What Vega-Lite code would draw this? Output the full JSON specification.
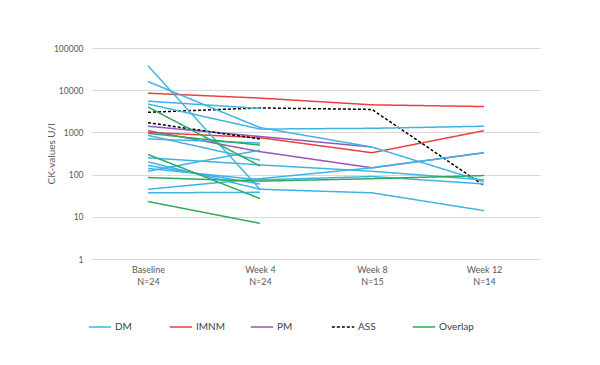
{
  "$schema": "https://vega.github.io/schema/vega-lite/v6.json",
  "width": 448,
  "height": 211,
  "autosize": "none",
  "padding": {"left": 92, "top": 48, "right": 60, "bottom": 106},
  "background": "white",
  "config": {
    "font": "Lato",
    "view": {"stroke": null},
    "axis": {"labelFont": "Lato", "titleFont": "Lato", "labelColor": "#595959", "titleColor": "#595959"}
  },
  "data": {"values": [
    {"id": "IMNM1", "group": "IMNM", "time": "Baseline", "ck": 8500},
    {"id": "IMNM1", "group": "IMNM", "time": "Week 4", "ck": 6500},
    {"id": "IMNM1", "group": "IMNM", "time": "Week 8", "ck": 4500},
    {"id": "IMNM1", "group": "IMNM", "time": "Week 12", "ck": 4100},
    {"id": "IMNM2", "group": "IMNM", "time": "Baseline", "ck": 1000},
    {"id": "IMNM2", "group": "IMNM", "time": "Week 4", "ck": 750},
    {"id": "IMNM2", "group": "IMNM", "time": "Week 8", "ck": 330},
    {"id": "IMNM2", "group": "IMNM", "time": "Week 12", "ck": 1100},
    {"id": "PM1", "group": "PM", "time": "Baseline", "ck": 1400},
    {"id": "PM1", "group": "PM", "time": "Week 4", "ck": 800},
    {"id": "PM1", "group": "PM", "time": "Week 8", "ck": 450},
    {"id": "PM2", "group": "PM", "time": "Baseline", "ck": 1100},
    {"id": "PM2", "group": "PM", "time": "Week 4", "ck": 350},
    {"id": "PM2", "group": "PM", "time": "Week 8", "ck": 145},
    {"id": "PM2", "group": "PM", "time": "Week 12", "ck": 330},
    {"id": "ASS1", "group": "ASS", "time": "Baseline", "ck": 3000},
    {"id": "ASS1", "group": "ASS", "time": "Week 4", "ck": 3800},
    {"id": "ASS1", "group": "ASS", "time": "Week 8", "ck": 3500},
    {"id": "ASS1", "group": "ASS", "time": "Week 12", "ck": 55},
    {"id": "ASS2", "group": "ASS", "time": "Baseline", "ck": 1700},
    {"id": "ASS2", "group": "ASS", "time": "Week 4", "ck": 700},
    {"id": "D1", "group": "DM", "time": "Baseline", "ck": 38000},
    {"id": "D1", "group": "DM", "time": "Week 4", "ck": 45},
    {"id": "D1", "group": "DM", "time": "Week 8", "ck": 37},
    {"id": "D1", "group": "DM", "time": "Week 12", "ck": 14},
    {"id": "D2", "group": "DM", "time": "Baseline", "ck": 16000},
    {"id": "D2", "group": "DM", "time": "Week 4", "ck": 1300},
    {"id": "D2", "group": "DM", "time": "Week 8", "ck": 450},
    {"id": "D2", "group": "DM", "time": "Week 12", "ck": 68},
    {"id": "D3", "group": "DM", "time": "Baseline", "ck": 5500},
    {"id": "D3", "group": "DM", "time": "Week 4", "ck": 3700},
    {"id": "D4", "group": "DM", "time": "Baseline", "ck": 4700},
    {"id": "D4", "group": "DM", "time": "Week 4", "ck": 1200},
    {"id": "D4", "group": "DM", "time": "Week 8", "ck": 1250},
    {"id": "D4", "group": "DM", "time": "Week 12", "ck": 1400},
    {"id": "D5", "group": "DM", "time": "Baseline", "ck": 850},
    {"id": "D5", "group": "DM", "time": "Week 4", "ck": 220},
    {"id": "D6", "group": "DM", "time": "Baseline", "ck": 120},
    {"id": "D6", "group": "DM", "time": "Week 4", "ck": 380},
    {"id": "D7", "group": "DM", "time": "Baseline", "ck": 250},
    {"id": "D7", "group": "DM", "time": "Week 4", "ck": 170},
    {"id": "D7", "group": "DM", "time": "Week 8", "ck": 120},
    {"id": "D7", "group": "DM", "time": "Week 12", "ck": 75},
    {"id": "D8", "group": "DM", "time": "Baseline", "ck": 200},
    {"id": "D8", "group": "DM", "time": "Week 4", "ck": 45},
    {"id": "D9", "group": "DM", "time": "Baseline", "ck": 165},
    {"id": "D9", "group": "DM", "time": "Week 4", "ck": 60},
    {"id": "D10", "group": "DM", "time": "Baseline", "ck": 140},
    {"id": "D10", "group": "DM", "time": "Week 4", "ck": 75},
    {"id": "D10", "group": "DM", "time": "Week 8", "ck": 90},
    {"id": "D10", "group": "DM", "time": "Week 12", "ck": 60},
    {"id": "D11", "group": "DM", "time": "Baseline", "ck": 45},
    {"id": "D11", "group": "DM", "time": "Week 4", "ck": 80},
    {"id": "D11", "group": "DM", "time": "Week 8", "ck": 145},
    {"id": "D11", "group": "DM", "time": "Week 12", "ck": 330},
    {"id": "D12", "group": "DM", "time": "Baseline", "ck": 37},
    {"id": "D12", "group": "DM", "time": "Week 4", "ck": 38},
    {"id": "D13", "group": "DM", "time": "Baseline", "ck": 700},
    {"id": "D13", "group": "DM", "time": "Week 4", "ck": 560},
    {"id": "G1", "group": "Overlap", "time": "Baseline", "ck": 4000},
    {"id": "G1", "group": "Overlap", "time": "Week 4", "ck": 160},
    {"id": "G2", "group": "Overlap", "time": "Baseline", "ck": 950},
    {"id": "G2", "group": "Overlap", "time": "Week 4", "ck": 500},
    {"id": "G3", "group": "Overlap", "time": "Baseline", "ck": 300},
    {"id": "G3", "group": "Overlap", "time": "Week 4", "ck": 27},
    {"id": "G4", "group": "Overlap", "time": "Baseline", "ck": 85},
    {"id": "G4", "group": "Overlap", "time": "Week 4", "ck": 70},
    {"id": "G4", "group": "Overlap", "time": "Week 8", "ck": 80},
    {"id": "G4", "group": "Overlap", "time": "Week 12", "ck": 95},
    {"id": "G5", "group": "Overlap", "time": "Baseline", "ck": 23},
    {"id": "G5", "group": "Overlap", "time": "Week 4", "ck": 7}
  ]},
  "mark": {"type": "line", "strokeWidth": 1.5},
  "encoding": {
    "x": {
      "field": "time", "type": "ordinal",
      "sort": ["Baseline", "Week 4", "Week 8", "Week 12"],
      "scale": {"type": "point", "padding": 0.5},
      "axis": {
        "title": null, "labelAngle": 0, "ticks": false, "labelPadding": 6,
        "labelFontSize": 9, "labelLineHeight": 12,
        "domainColor": "#d9d9d9", "grid": false,
        "labelExpr": "datum.value == 'Baseline' ? ['Baseline','N=24'] : datum.value == 'Week 4' ? ['Week 4','N=24'] : datum.value == 'Week 8' ? ['Week 8','N=15'] : ['Week 12','N=14']"
      }
    },
    "y": {
      "field": "ck", "type": "quantitative",
      "scale": {"type": "log", "domain": [1, 100000], "nice": false},
      "axis": {
        "title": "CK-values U/l", "titleFontSize": 10, "titleFontWeight": "normal", "titlePadding": -3,
        "values": [1, 10, 100, 1000, 10000, 100000], "format": "d",
        "labelFontSize": 8.5, "labelPadding": 9, "ticks": false, "domain": false,
        "gridColor": "#d9d9d9"
      }
    },
    "detail": {"field": "id"},
    "color": {
      "field": "group", "type": "nominal",
      "scale": {"domain": ["DM", "IMNM", "PM", "ASS", "Overlap"], "range": ["#3fb4e4", "#e8413e", "#9558b8", "#000000", "#2cab5c"]},
      "legend": {
        "title": null, "orient": "none", "legendX": -4, "legendY": 267, "direction": "horizontal", "columns": 5, "gridAlign": "all",
        "columnPadding": 16, "symbolType": "stroke", "symbolSize": 500, "symbolStrokeWidth": 1.5,
        "labelFontSize": 10, "labelColor": "#404040", "labelOffset": 3
      }
    },
    "strokeDash": {
      "field": "group", "type": "nominal",
      "scale": {"domain": ["DM", "IMNM", "PM", "ASS", "Overlap"], "range": [[1, 0], [1, 0], [1, 0], [3, 2], [1, 0]]},
      "legend": null
    }
  }
}
